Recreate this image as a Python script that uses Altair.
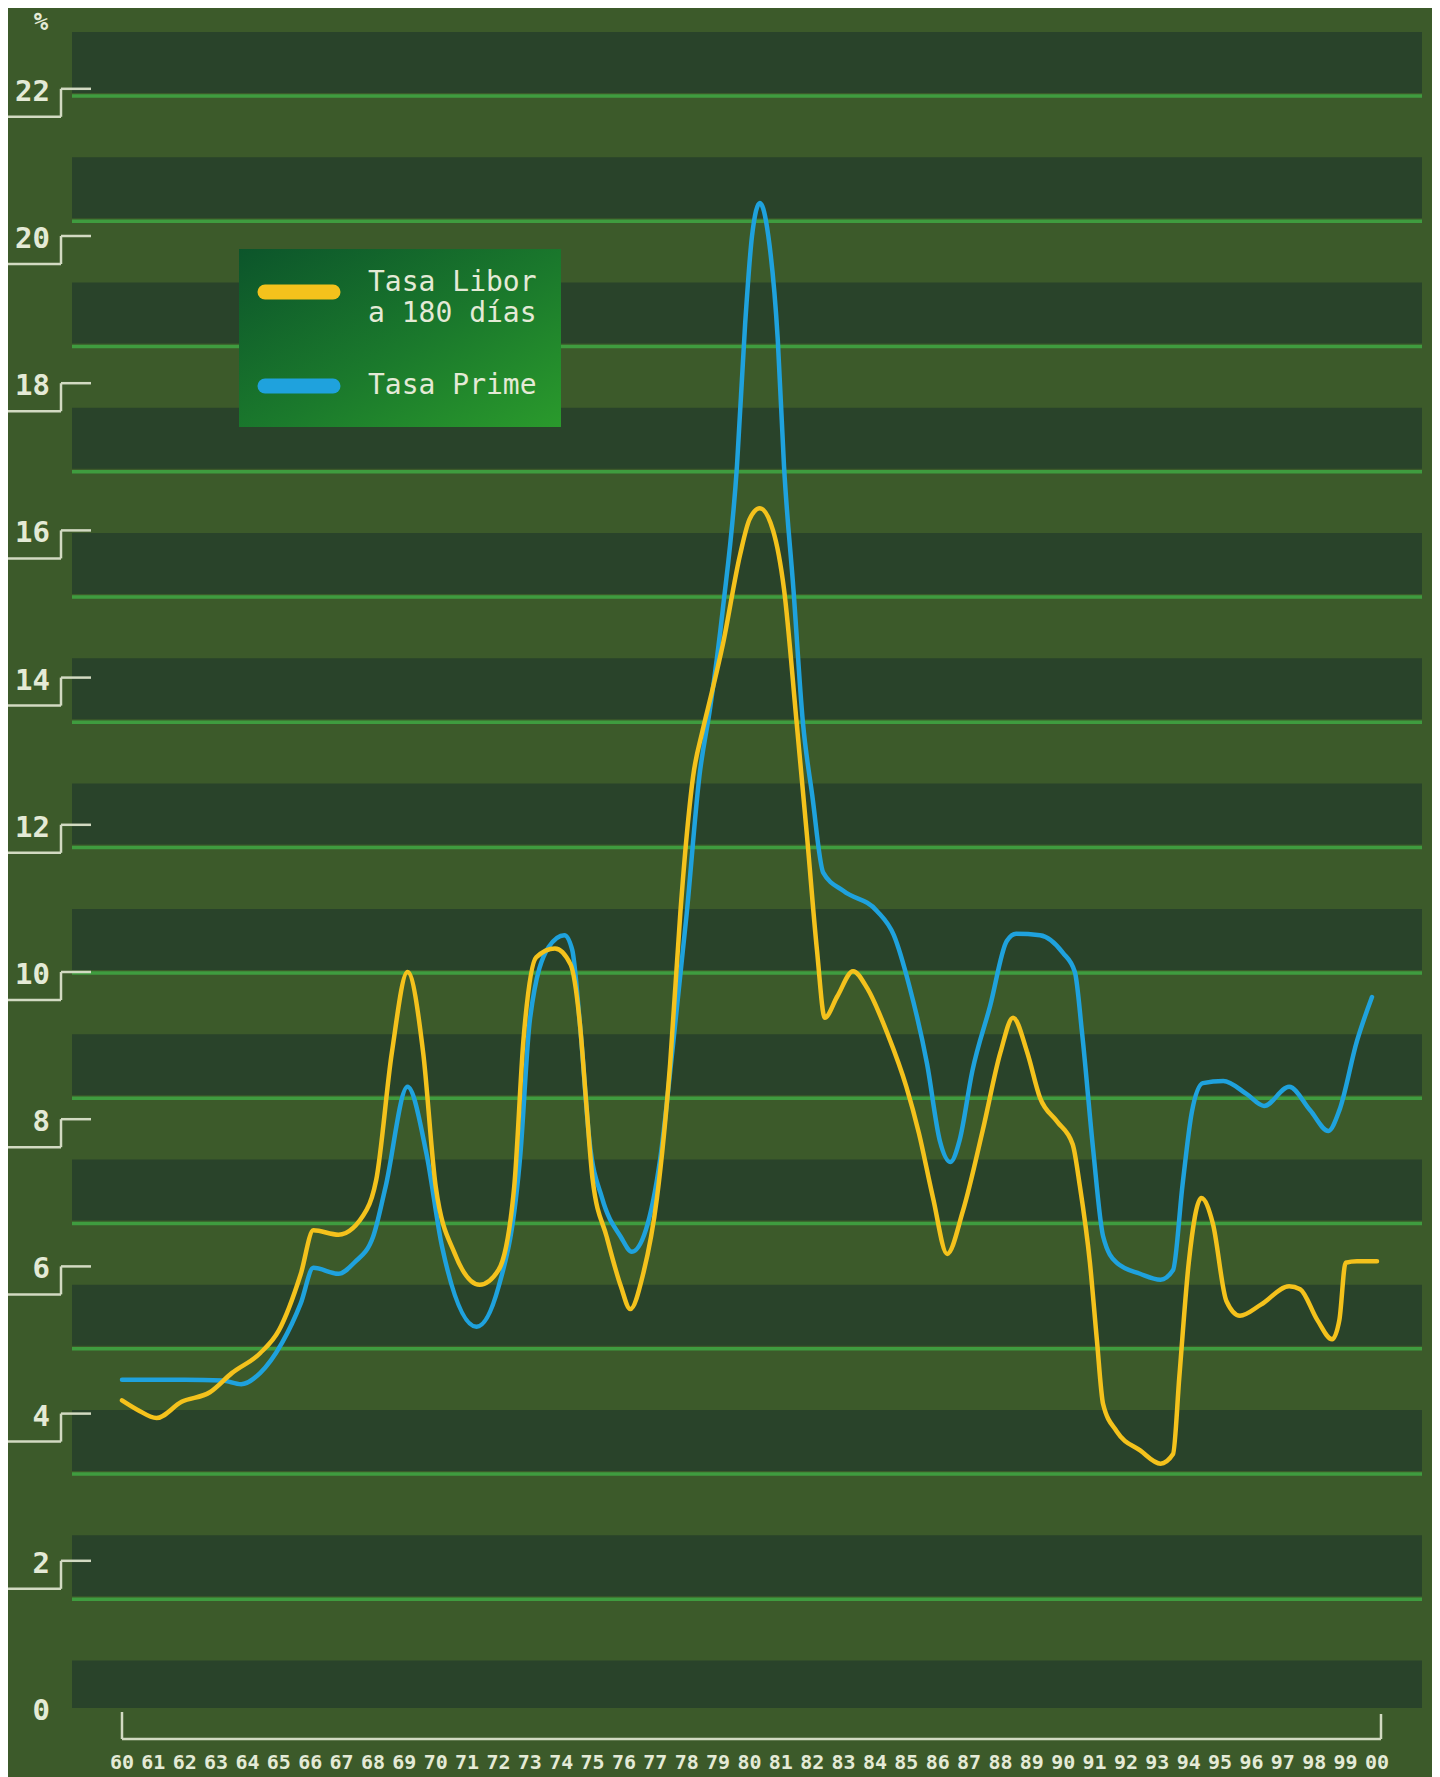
import altair as alt
import pandas as pd

# ---------------- data ----------------
libor_year = [1960.0, 1960.5, 1961.1, 1961.9, 1962.8, 1963.5, 1964.4, 1965.0, 1965.7, 1966.1,
              1966.9, 1967.8, 1968.1, 1968.6, 1969.1, 1969.6, 1970.0, 1970.6, 1971.4, 1972.0,
              1972.5, 1972.8, 1973.2, 1973.8, 1974.3, 1974.6, 1974.8, 1975.0, 1975.45, 1975.9,
              1976.2, 1976.6, 1977.05, 1977.47, 1977.8, 1978.0, 1978.2, 1978.5, 1978.8, 1979.15,
              1979.7, 1980.0, 1980.33, 1980.75, 1981.1, 1981.5, 1981.83, 1982.15, 1982.4, 1982.8,
              1983.3, 1983.75, 1984.4, 1985.0, 1985.4, 1985.85, 1986.3, 1986.8, 1987.44, 1988.0,
              1988.4, 1988.85, 1989.26, 1989.8, 1990.3, 1990.53, 1990.85, 1991.07, 1991.27, 1991.7,
              1992.45, 1993.1, 1993.5, 1993.7, 1994.0, 1994.4, 1994.77, 1995.2, 1995.63, 1996.3,
              1997.2, 1997.55, 1998.1, 1998.57, 1998.8, 1999.0, 1999.36, 2000.0]
libor_rate = [4.18, 4.05, 3.94, 4.16, 4.29, 4.55, 4.82, 5.13, 5.9, 6.49,
              6.43, 6.77, 7.17, 8.9, 10.0, 8.9, 7.08, 6.18, 5.75, 5.95,
              7.08, 9.1, 10.2, 10.32, 10.1, 9.27, 8.2, 7.18, 6.4, 5.73,
              5.42, 5.88, 6.93, 8.75, 10.83, 11.86, 12.65, 13.27, 13.8, 14.45,
              15.67, 16.15, 16.3, 16.0, 15.2, 13.4, 11.86, 10.3, 9.38, 9.67,
              10.01, 9.78, 9.16, 8.44, 7.81, 6.93, 6.17, 6.75, 7.86, 8.91,
              9.38, 8.91, 8.29, 7.97, 7.66, 7.09, 6.05, 5.01, 4.13, 3.76,
              3.5, 3.32, 3.45, 4.5, 6.05, 6.93, 6.58, 5.53, 5.33, 5.48,
              5.73, 5.69, 5.27, 5.01, 5.27, 6.05, 6.07, 6.07]

prime_year = [1960.0, 1961.0, 1962.0, 1963.2, 1963.8, 1964.4, 1965.1, 1965.7, 1966.1, 1966.9,
              1967.4, 1968.0, 1968.4, 1969.1, 1969.7, 1970.2, 1971.3, 1972.0, 1972.7, 1973.0,
              1973.6, 1974.1, 1974.35, 1974.6, 1974.9, 1975.3, 1975.9, 1976.25, 1976.7, 1977.15,
              1977.56, 1978.0, 1978.4, 1978.75, 1979.15, 1979.6, 1979.86, 1980.08, 1980.33, 1980.6,
              1980.9, 1981.1, 1981.4, 1981.7, 1982.0, 1982.35, 1983.0, 1984.06, 1984.6, 1985.1,
              1985.66, 1986.07, 1986.4, 1986.7, 1987.1, 1987.67, 1988.2, 1988.5, 1989.26, 1989.99,
              1990.37, 1990.6, 1990.95, 1991.27, 1991.7, 1992.45, 1993.1, 1993.5, 1993.8, 1994.1,
              1994.45, 1995.1, 1995.85, 1996.4, 1997.2, 1997.87, 1998.45, 1998.8, 1999.36, 1999.84]
prime_rate = [4.46, 4.46, 4.46, 4.45, 4.4, 4.55, 4.96, 5.5, 5.98, 5.9,
              6.05, 6.4, 7.08, 8.44, 7.54, 6.27, 5.18, 5.72, 7.54, 9.35,
              10.34, 10.5, 10.3, 9.27, 7.7, 6.93, 6.4, 6.2, 6.5, 7.45,
              9.0, 10.8, 12.65, 13.6, 14.93, 16.87, 18.8, 20.0, 20.45, 20.0,
              18.6, 16.87, 15.2, 13.4, 12.4, 11.35, 11.1, 10.83, 10.5, 9.8,
              8.75, 7.7, 7.42, 7.72, 8.65, 9.54, 10.42, 10.52, 10.5, 10.26,
              10.0, 9.17, 7.6, 6.41, 6.05, 5.9, 5.82, 5.95, 7.1, 8.1,
              8.49, 8.52, 8.34, 8.18, 8.44, 8.12, 7.84, 8.12, 9.06, 9.66]

x_tick_years = list(range(1960, 2001))
x_tick_labels = ["60", "61", "62", "63", "64", "65", "66", "67", "68", "69",
                 "70", "71", "72", "73", "74", "75", "76", "77", "78", "79",
                 "80", "81", "82", "83", "84", "85", "86", "87", "88", "89",
                 "90", "91", "92", "93", "94", "95", "96", "97", "98", "99", "00"]
y_tick_values = [0, 2, 4, 6, 8, 10, 12, 14, 16, 18, 20, 22]
legend_labels = ["Tasa Libor", "a 180 días", "Tasa Prime"]

# ---------------- layout ----------------
W, H = 1424, 1769
XDOM = [1956.3665, 2001.753]
YDOM = [-0.9375, 23.0978]


def yr(px):  # page x -> year units
    return XDOM[0] + (px - 8) / W * (XDOM[1] - XDOM[0])


def val(py):  # page y -> value units
    return YDOM[1] - (py - 8) / H * (YDOM[1] - YDOM[0])


BG = "#3c5a2a"
DARK = "#29432a"
GRIDLINE = "#3f9c3f"
INK = "#e4ead6"
BRACKET = "#d2dac2"
YELLOW = "#f4c21c"
BLUE = "#1fa2dd"
FONT = "DejaVu Sans Mono"

xs = alt.Scale(domain=XDOM, nice=False, zero=False)
ys = alt.Scale(domain=YDOM, nice=False, zero=False)
X = lambda f: alt.X(f, type="quantitative", scale=xs, axis=None)
Y = lambda f: alt.Y(f, type="quantitative", scale=ys, axis=None)

# bands
band_left, band_right = yr(72), yr(1422)
period = 125.27
bands, glines = [], []
for k in range(14):
    top = 32 + k * period
    bot = min(top + 61, 1708)
    bands.append({"x": band_left, "x2": band_right, "y": val(top), "y2": val(bot)})
    if top + 65 < 1708:
        glines.append({"x": band_left, "x2": band_right, "y": val(top + 64)})
bands_df = pd.DataFrame(bands)
glines_df = pd.DataFrame(glines)

band_layer = alt.Chart(bands_df).mark_rect(fill=DARK).encode(
    x=X("x"), x2="x2", y=Y("y"), y2="y2")
gline_layer = alt.Chart(glines_df).mark_rule(stroke=GRIDLINE, strokeWidth=3.5).encode(
    x=X("x"), x2="x2", y=Y("y"))

# y-axis brackets and labels
tick_px = 73.6
drop = 28 / tick_px
br_h, br_v = [], []
for v in y_tick_values:
    if v == 0:
        continue
    br_h.append({"x": yr(8), "x2": yr(61), "y": v - drop})
    br_h.append({"x": yr(61), "x2": yr(91), "y": v})
    br_v.append({"x": yr(61), "y": v - drop, "y2": v})
brh_layer = alt.Chart(pd.DataFrame(br_h)).mark_rule(stroke=BRACKET, strokeWidth=2.5).encode(
    x=X("x"), x2="x2", y=Y("y"))
brv_layer = alt.Chart(pd.DataFrame(br_v)).mark_rule(stroke=BRACKET, strokeWidth=2.5).encode(
    x=X("x"), y=Y("y"), y2="y2")

ylab_df = pd.DataFrame({"x": [yr(50)] * len(y_tick_values),
                        "y": [v - 0.04 for v in y_tick_values],
                        "t": [str(v) for v in y_tick_values]})
ylab_layer = alt.Chart(ylab_df).mark_text(
    align="right", baseline="middle", font=FONT, fontSize=29, fontWeight="bold", fill=INK
).encode(x=X("x"), y=Y("y"), text="t:N")

pct_layer = alt.Chart(pd.DataFrame({"x": [yr(41)], "y": [val(23)], "t": ["%"]})).mark_text(
    align="center", baseline="middle", font=FONT, fontSize=24, fontWeight="bold", fill=INK
).encode(x=X("x"), y=Y("y"), text="t:N")

# x-axis bracket and labels
xb_y = val(1739)
xbr_h = alt.Chart(pd.DataFrame({"x": [x_tick_years[0]], "x2": [yr(1381)], "y": [xb_y]})).mark_rule(
    stroke=BRACKET, strokeWidth=2.5).encode(x=X("x"), x2="x2", y=Y("y"))
xbr_v = alt.Chart(pd.DataFrame({"x": [x_tick_years[0], yr(1381)], "y": [xb_y, xb_y],
                                "y2": [val(1712), val(1714)]})).mark_rule(
    stroke=BRACKET, strokeWidth=2.5).encode(x=X("x"), y=Y("y"), y2="y2")
xlab_df = pd.DataFrame({"x": x_tick_years, "y": [val(1763)] * len(x_tick_years), "t": x_tick_labels})
xlab_layer = alt.Chart(xlab_df).mark_text(
    align="center", baseline="middle", font=FONT, fontSize=20, fontWeight="bold", fill=INK
).encode(x=X("x"), y=Y("y"), text="t:N")

# series
prime_layer = alt.Chart(pd.DataFrame({"year": prime_year, "rate": prime_rate})).mark_line(
    stroke=BLUE, strokeWidth=4.5, interpolate="monotone", strokeCap="round", strokeJoin="round"
).encode(x=X("year"), y=Y("rate"))
libor_layer = alt.Chart(pd.DataFrame({"year": libor_year, "rate": libor_rate})).mark_line(
    stroke=YELLOW, strokeWidth=4.5, interpolate="monotone", strokeCap="round", strokeJoin="round"
).encode(x=X("year"), y=Y("rate"))

# legend
leg_box = alt.Chart(pd.DataFrame({"x": [yr(239)], "x2": [yr(561)], "y": [val(249)], "y2": [val(427)]})).mark_rect(
    fill=alt.Gradient(gradient="linear",
                      stops=[alt.GradientStop(color="#0c552b", offset=0),
                             alt.GradientStop(color="#1b7a2c", offset=0.55),
                             alt.GradientStop(color="#2a9a2c", offset=1)],
                      x1=0, y1=0, x2=1, y2=1)
).encode(x=X("x"), x2="x2", y=Y("y"), y2="y2")
leg_sw = alt.Chart(pd.DataFrame({"x": [yr(265), yr(265)], "x2": [yr(333), yr(333)],
                                 "y": [val(292), val(386)], "c": ["Tasa Libor", "Tasa Prime"]})).mark_rule(
    strokeWidth=15, strokeCap="round").encode(
    x=X("x"), x2="x2", y=Y("y"),
    color=alt.Color("c:N", scale=alt.Scale(domain=["Tasa Libor", "Tasa Prime"], range=[YELLOW, BLUE]), legend=None))
leg_txt = alt.Chart(pd.DataFrame({"x": [yr(368)] * 3, "y": [val(283), val(314), val(386)],
                                  "t": legend_labels})).mark_text(
    align="left", baseline="middle", font=FONT, fontSize=28, fill=INK
).encode(x=X("x"), y=Y("y"), text="t:N")

chart = alt.layer(
    band_layer, gline_layer, brh_layer, brv_layer, ylab_layer, pct_layer,
    xbr_h, xbr_v, xlab_layer, prime_layer, libor_layer, leg_box, leg_sw, leg_txt
).properties(
    width=W, height=H, padding=0, autosize=alt.AutoSizeParams(type="none"), background=BG
).configure_view(stroke=None)

chart.save("out.html", embed_options={"renderer": "svg", "actions": False})
